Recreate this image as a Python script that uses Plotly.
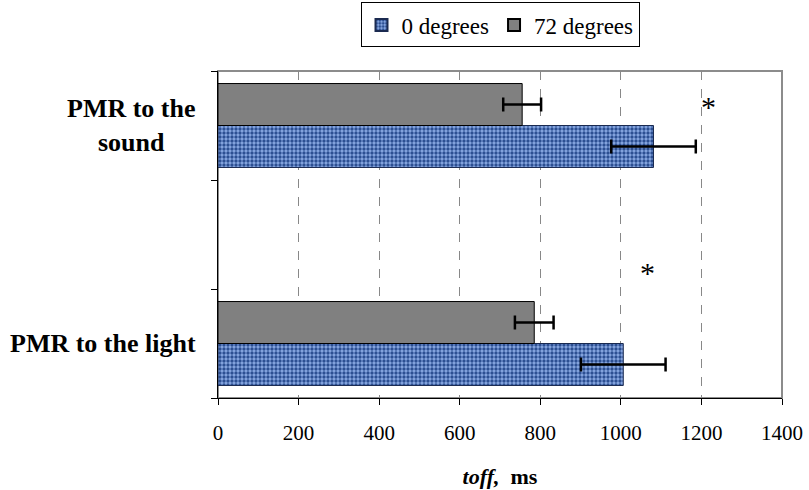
import plotly.graph_objects as go

categories = ["PMR to the light", " ", "PMR to the sound"]
series_names = ["0 degrees", "72 degrees"]
values_0deg = [1006, None, 1081]
errors_0deg = [105, None, 105]
values_72deg = [785, None, 755]
errors_72deg = [48, None, 47]
x_ticks = [0, 200, 400, 600, 800, 1000, 1200, 1400]
label_text = {"PMR to the sound": "PMR to the<br>sound", "PMR to the light": "PMR to the light"}
sig_x = [1065, 1217]
sig_y = [0.65, 2.17]

SERIF = "Liberation Serif"

fig = go.Figure()
fig.add_trace(go.Bar(
    name=series_names[0], y=categories, x=values_0deg, orientation="h",
    marker=dict(color="#7f9fdc", line=dict(color="#1a2a50", width=1),
                pattern=dict(shape=".", fgcolor="#2c4f92", bgcolor="#8aaae4",
                             size=4, solidity=0.55, fillmode="replace")),
    error_x=dict(type="data", array=errors_0deg, color="black", thickness=2.5, width=7),
))
fig.add_trace(go.Bar(
    name=series_names[1], y=categories, x=values_72deg, orientation="h",
    marker=dict(color="#808080", line=dict(color="black", width=1)),
    error_x=dict(type="data", array=errors_72deg, color="black", thickness=2.5, width=7),
))

fig.add_shape(type="rect", xref="paper", yref="paper", x0=0, x1=1, y0=0, y1=1,
              line=dict(color="#8c8c8c", width=2), layer="below")

for c in ["PMR to the sound", "PMR to the light"]:
    fig.add_annotation(text="<b>" + label_text[c] + "</b>", xref="paper", yref="y",
                       x=-0.035, y=c, xanchor="right", yanchor="middle", showarrow=False,
                       align="center",
                       font=dict(family=SERIF, size=26, color="black"))

for sx, sy in zip(sig_x, sig_y):
    fig.add_annotation(text="*", x=sx, y=sy, xref="x", yref="y", showarrow=False,
                       font=dict(family=SERIF, size=30, color="black"))

fig.update_layout(
    width=809, height=490,
    margin=dict(l=218, r=27, t=71, b=92, autoexpand=False),
    paper_bgcolor="white", plot_bgcolor="white",
    font=dict(family=SERIF, color="black"),
    barmode="group", bargap=0.23, bargroupgap=0,
    showlegend=True,
    legend=dict(orientation="h", x=0.5, xanchor="center", y=0.995, yanchor="top",
                yref="container", bordercolor="black", borderwidth=1,
                font=dict(family=SERIF, size=23, color="black"),
                itemwidth=30, traceorder="normal", itemsizing="constant",
                tracegroupgap=0),
    xaxis=dict(range=[0, 1400], tickvals=x_ticks, ticks="outside", ticklen=6,
               tickcolor="black", showline=True, linecolor="black", linewidth=1,
               showgrid=True, gridcolor="#888888", griddash="dash", gridwidth=1,
               zeroline=False, ticklabelstandoff=10, automargin=False,
               tickfont=dict(family=SERIF, size=21, color="black"),
               title=dict(text="<b><i>toff,</i>  ms</b>", standoff=24,
                          font=dict(family=SERIF, size=22, color="black"))),
    yaxis=dict(type="category", categoryorder="array", categoryarray=categories,
               range=[-0.5, 2.5], tickson="boundaries", ticks="outside", ticklen=6,
               tickcolor="black", showticklabels=False, showline=True,
               linecolor="black", linewidth=1, showgrid=False, zeroline=False,
               automargin=False),
)

fig.write_html("out.html")
